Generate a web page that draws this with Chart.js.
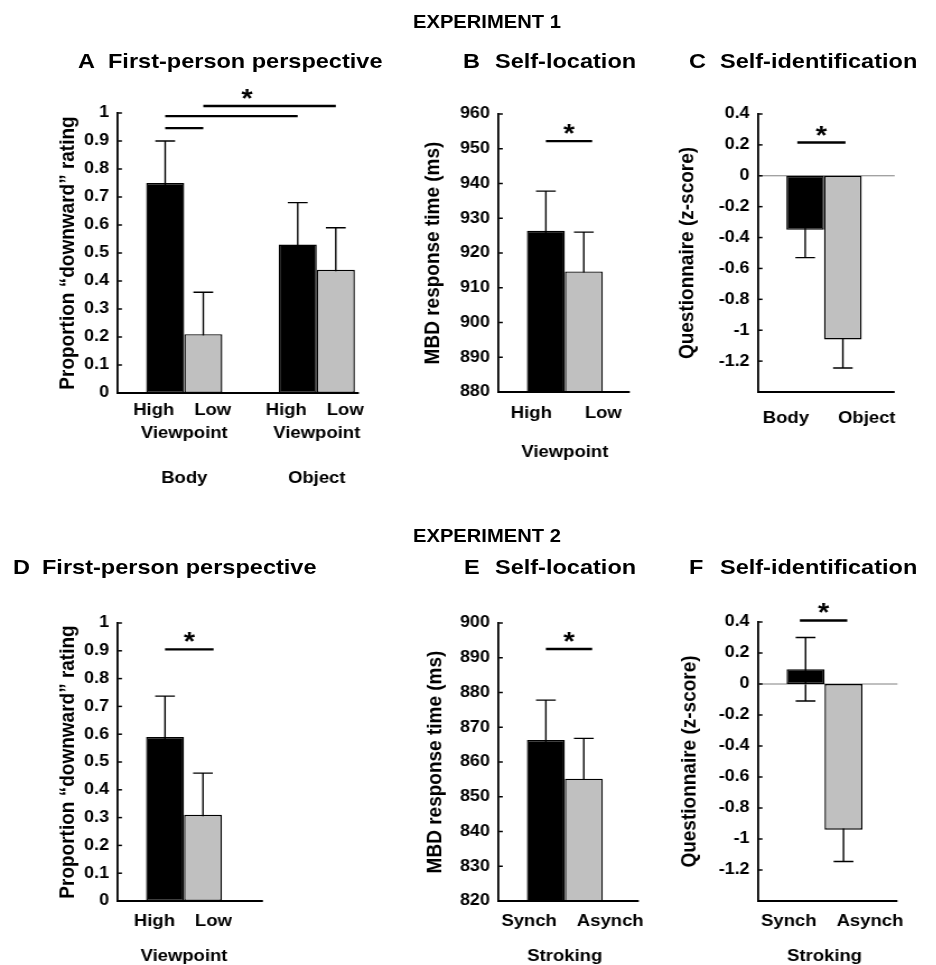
<!DOCTYPE html>
<html>
<head>
<meta charset="utf-8">
<script src="https://cdn.jsdelivr.net/npm/chart.js@4.4.0/dist/chart.umd.min.js"></script>
<style>
    html, body { margin: 0; padding: 0; background: #fff; }
    body { width: 936px; height: 965px; overflow: hidden; position: relative; }
    /* the source figure is a little wider than tall, so the whole stage is stretched sideways */
    #stage { position: absolute; left: 0; top: 0; width: 836px; height: 965px;
             transform: scaleX(1.12); transform-origin: 0 0;
             font-family: "Liberation Sans", Arial, sans-serif; font-weight: bold; color: #000; }
    #stage canvas { position: absolute; }
    .t { position: absolute; white-space: nowrap; line-height: 1; }
    .head { font-size: 18px; }
    .ttl { font-size: 21px; }
</style>
</head>
<body>
<div id="stage"></div>
<script>
const SX = 1.12;

// ---- Experiment 1 ----
// A  First-person perspective
const groupsA = ['Body', 'Object'];
const highA = [0.75, 0.53];
const lowA = [0.21, 0.44];
const highErrA = [0.15, 0.15];
const lowErrA = [0.15, 0.15];
const sigA = [0.946, 0.989, 1.025];
const yTicksA = [0, 0.1, 0.2, 0.3, 0.4, 0.5, 0.6, 0.7, 0.8, 0.9, 1];

// B  Self-location
const groupsB = ['Viewpoint'];
const highB = [926.4];
const lowB = [914.7];
const highErrB = [11.4];
const lowErrB = [11.3];
const sigB = [952.2];
const yTicksB = [880, 890, 900, 910, 920, 930, 940, 950, 960];

// C  Self-identification
const groupsC = [''];
const bodyC = [-0.35];
const objectC = [-1.06];
const bodyErrC = [0.18];
const objectErrC = [0.185];
const sigC = [0.215];
const yTicksC = [0.4, 0.2, 0, -0.2, -0.4, -0.6, -0.8, -1, -1.2];

// ---- Experiment 2 ----
// D  First-person perspective
const groupsD = ['Viewpoint'];
const highD = [0.59];
const lowD = [0.31];
const highErrD = [0.147];
const lowErrD = [0.15];
const sigD = [0.905];
const yTicksD = [0, 0.1, 0.2, 0.3, 0.4, 0.5, 0.6, 0.7, 0.8, 0.9, 1];

// E  Self-location
const groupsE = ['Stroking'];
const synchE = [866.3];
const asynchE = [855.2];
const synchErrE = [11.5];
const asynchErrE = [11.6];
const sigE = [892.5];
const yTicksE = [820, 830, 840, 850, 860, 870, 880, 890, 900];

// F  Self-identification
const groupsF = ['Stroking'];
const synchF = [0.095];
const asynchF = [-0.94];
const synchErrF = [0.205];
const asynchErrF = [0.205];
const sigF = [0.41];
const yTicksF = [0.4, 0.2, 0, -0.2, -0.4, -0.6, -0.8, -1, -1.2];

const BLACK = '#000000';
const GRAY = '#c0c0c0';
const FONT = '"Liberation Sans", Arial, sans-serif';
const LABEL_FONT = 'bold 16.5px ' + FONT;

Chart.defaults.font.family = FONT;
Chart.defaults.color = '#000';

const stage = document.getElementById('stage');

function addText(txt, x, y, cls) {
    const d = document.createElement('div');
    d.className = 't ' + cls;
    d.textContent = txt;
    d.style.left = (x / SX) + 'px';
    d.style.top = y + 'px';
    stage.appendChild(d);
}

function fmt(v) {
    return String(+Number(v).toFixed(2));
}

function axisEnd(chart, cfg) {
    let right = 0;
    chart.data.datasets.forEach((ds, di) => {
        chart.getDatasetMeta(di).data.forEach(bar => {
            right = Math.max(right, bar.x + bar.width / 2);
        });
    });
    return right + cfg.axisPad / SX;
}

// error bars, zero line, x axis, inward ticks, brackets and labels
function panelPlugin(cfg) {
    return {
        id: 'panel',
        beforeDatasetsDraw(chart) {
            const { ctx, chartArea: a, scales: { y } } = chart;
            ctx.save();
            ctx.strokeStyle = '#000';
            ctx.lineWidth = 1.4;
            chart.data.datasets.forEach((ds, di) => {
                chart.getDatasetMeta(di).data.forEach((bar, i) => {
                    const v = ds.data[i];
                    const e = cfg.series[di].err[i];
                    const y0 = y.getPixelForValue(v - e);
                    const y1 = y.getPixelForValue(v + e);
                    const cap = bar.width * 0.26;
                    ctx.beginPath();
                    ctx.moveTo(bar.x, y0); ctx.lineTo(bar.x, y1);
                    ctx.moveTo(bar.x - cap, y0); ctx.lineTo(bar.x + cap, y0);
                    ctx.moveTo(bar.x - cap, y1); ctx.lineTo(bar.x + cap, y1);
                    ctx.stroke();
                });
            });
            if (cfg.zeroLine) {
                const zy = y.getPixelForValue(0);
                ctx.strokeStyle = '#808080';
                ctx.lineWidth = 1;
                ctx.beginPath();
                ctx.moveTo(a.left, zy);
                ctx.lineTo(axisEnd(chart, cfg), zy);
                ctx.stroke();
            }
            ctx.restore();
        },
        afterDatasetsDraw(chart) {
            const { ctx, chartArea: a, scales: { x, y } } = chart;
            ctx.save();
            ctx.strokeStyle = '#000';

            // x axis
            ctx.lineWidth = 2;
            ctx.beginPath();
            ctx.moveTo(a.left - 1, a.bottom);
            ctx.lineTo(axisEnd(chart, cfg), a.bottom);
            ctx.stroke();

            // inward tick marks
            ctx.lineWidth = 1.5;
            y.ticks.forEach(t => {
                const py = y.getPixelForValue(t.value);
                ctx.beginPath();
                ctx.moveTo(a.left, py);
                ctx.lineTo(a.left + 3.5, py);
                ctx.stroke();
            });

            // significance brackets
            const barAt = (ref) => {
                const bar = chart.getDatasetMeta(ref[0]).data[ref[1]];
                return bar.x + ref[2] * bar.width;
            };
            ctx.lineWidth = 2.4;
            cfg.brackets.forEach((br, k) => {
                const x0 = barAt(br.from), x1 = barAt(br.to);
                const ly = y.getPixelForValue(cfg.sig[k]);
                ctx.beginPath();
                ctx.moveTo(x0, ly); ctx.lineTo(x1, ly);
                ctx.stroke();
                if (br.star !== undefined) {
                    ctx.fillStyle = '#000';
                    ctx.font = 'bold 26px ' + FONT;
                    ctx.textAlign = 'center';
                    ctx.textBaseline = 'alphabetic';
                    ctx.fillText('*', x0 + (x1 - x0) * br.star, ly + 1);
                }
            });

            // labels under each bar
            ctx.fillStyle = '#000';
            ctx.font = LABEL_FONT;
            ctx.textBaseline = 'middle';
            chart.data.datasets.forEach((ds, di) => {
                chart.getDatasetMeta(di).data.forEach(bar => {
                    if (di === 0) {
                        ctx.textAlign = 'right';
                        ctx.fillText(ds.label, bar.x + bar.width / 2 - cfg.gaps[0] / SX, a.bottom + cfg.barLabelDy);
                        if (cfg.subLabel) {
                            ctx.textAlign = 'center';
                            ctx.fillText(cfg.subLabel, bar.x + bar.width / 2, a.bottom + cfg.subLabelDy);
                        }
                    } else {
                        ctx.textAlign = 'left';
                        ctx.fillText(ds.label, bar.x - bar.width / 2 + cfg.gaps[1] / SX, a.bottom + cfg.barLabelDy);
                    }
                });
            });

            // category names, placed at the category scale's tick positions
            ctx.textAlign = 'center';
            chart.data.labels.forEach((lab, i) => {
                if (lab) ctx.fillText(lab, x.getPixelForTick(i), a.bottom + cfg.catDy);
            });
            ctx.restore();
        }
    };
}

function makePanel(cfg) {
    const cv = document.createElement('canvas');
    const left = cfg.box.l / SX;
    const w = Math.round((cfg.box.r - cfg.box.l) / SX);
    const h = cfg.box.b - cfg.box.t;
    cv.width = w;
    cv.height = h;
    cv.style.left = left + 'px';
    cv.style.top = cfg.box.t + 'px';
    cv.style.width = w + 'px';
    cv.style.height = h + 'px';
    stage.appendChild(cv);

    const aL = cfg.area.l / SX - left;
    const aR = cfg.area.r / SX - left;
    const titleSize = 19;
    const padL = cfg.titleX / SX - left - titleSize * 1.2 / 2;

    new Chart(cv, {
        type: 'bar',
        data: {
            labels: cfg.labels,
            datasets: cfg.series.map(s => ({
                label: s.name,
                data: s.data,
                backgroundColor: s.color,
                borderColor: '#000',
                borderWidth: 1.4,
                borderSkipped: false,
                categoryPercentage: 0.575,
                barPercentage: 1
            }))
        },
        options: {
            responsive: false,
            animation: false,
            events: [],
            layout: {
                padding: { left: padL, top: cfg.area.t - cfg.box.t, right: w - aR, bottom: 0 }
            },
            plugins: {
                legend: { display: false },
                tooltip: { enabled: false }
            },
            scales: {
                x: {
                    grid: { display: false, drawTicks: false },
                    border: { display: false },
                    ticks: { display: false },
                    afterFit: s => { s.height = cfg.box.b - cfg.area.b; }
                },
                y: {
                    min: cfg.yMin,
                    max: cfg.yMax,
                    grid: { display: false, drawTicks: false },
                    border: { display: true, color: '#000', width: 1.8 },
                    afterBuildTicks: s => { s.ticks = cfg.yTicks.map(v => ({ value: v })); },
                    ticks: {
                        padding: 8,
                        color: '#000',
                        font: { size: 16, weight: 'bold' },
                        callback: v => fmt(v)
                    },
                    title: {
                        display: true,
                        text: cfg.yTitle,
                        color: '#000',
                        padding: 0,
                        font: { size: titleSize, weight: 'bold' }
                    },
                    afterFit: s => { s.width = aL - padL; }
                }
            }
        },
        plugins: [panelPlugin(cfg)]
    });
}

// headers and panel titles
addText('EXPERIMENT 1', 413, 12.5, 'head');
addText('A', 78, 50, 'ttl');
addText('First-person perspective', 108, 50, 'ttl');
addText('B', 463, 50, 'ttl');
addText('Self-location', 495, 50, 'ttl');
addText('C', 689, 50, 'ttl');
addText('Self-identification', 720, 50, 'ttl');

addText('EXPERIMENT 2', 413, 527, 'head');
addText('D', 13, 556, 'ttl');
addText('First-person perspective', 42, 556, 'ttl');
addText('E', 464, 556, 'ttl');
addText('Self-location', 495, 556, 'ttl');
addText('F', 689, 556, 'ttl');
addText('Self-identification', 720, 556, 'ttl');

const PROP_TITLE = 'Proportion \u201Cdownward\u201D rating';

makePanel({
    box: { l: 0, t: 70, r: 400, b: 500 },
    area: { l: 118, t: 113, r: 383, b: 393 },
    titleX: 68,
    labels: groupsA,
    series: [
        { name: 'High', data: highA, err: highErrA, color: BLACK },
        { name: 'Low', data: lowA, err: lowErrA, color: GRAY }
    ],
    yMin: 0, yMax: 1, yTicks: yTicksA,
    yTitle: PROP_TITLE,
    sig: sigA,
    brackets: [
        { from: [0, 0, 0], to: [1, 0, 0] },
        { from: [0, 0, 0], to: [0, 1, 0] },
        { from: [1, 0, 0], to: [1, 1, 0], star: 0.33 }
    ],
    axisPad: 4, barLabelDy: 17, gaps: [10, 10],
    subLabel: 'Viewpoint', subLabelDy: 40,
    catDy: 85
});

makePanel({
    box: { l: 400, t: 70, r: 645, b: 500 },
    area: { l: 499, t: 114, r: 631, b: 392 },
    titleX: 433,
    labels: groupsB,
    series: [
        { name: 'High', data: highB, err: highErrB, color: BLACK },
        { name: 'Low', data: lowB, err: lowErrB, color: GRAY }
    ],
    yMin: 880, yMax: 960, yTicks: yTicksB,
    yTitle: 'MBD response time (ms)',
    sig: sigB,
    brackets: [{ from: [0, 0, 0], to: [1, 0, 0.22], star: 0.5 }],
    axisPad: 27, barLabelDy: 21, gaps: [13, 20],
    catDy: 60
});

makePanel({
    box: { l: 640, t: 70, r: 936, b: 500 },
    area: { l: 759, t: 114, r: 890, b: 392 },
    titleX: 688,
    labels: groupsC,
    series: [
        { name: 'Body', data: bodyC, err: bodyErrC, color: BLACK },
        { name: 'Object', data: objectC, err: objectErrC, color: GRAY }
    ],
    yMin: -1.4, yMax: 0.4, yTicks: yTicksC,
    yTitle: 'Questionnaire (z-score)',
    sig: sigC,
    brackets: [{ from: [0, 0, -0.21], to: [1, 0, 0.07], star: 0.5 }],
    zeroLine: true,
    axisPad: 33, barLabelDy: 26, gaps: [15, 14],
    catDy: 60
});

makePanel({
    box: { l: 0, t: 580, r: 400, b: 965 },
    area: { l: 118, t: 623, r: 250, b: 901 },
    titleX: 68,
    labels: groupsD,
    series: [
        { name: 'High', data: highD, err: highErrD, color: BLACK },
        { name: 'Low', data: lowD, err: lowErrD, color: GRAY }
    ],
    yMin: 0, yMax: 1, yTicks: yTicksD,
    yTitle: PROP_TITLE,
    sig: sigD,
    brackets: [{ from: [0, 0, 0], to: [1, 0, 0.28], star: 0.5 }],
    axisPad: 41, barLabelDy: 20.5, gaps: [9, 11],
    catDy: 55
});

makePanel({
    box: { l: 400, t: 580, r: 645, b: 965 },
    area: { l: 499, t: 623, r: 631, b: 901 },
    titleX: 436,
    labels: groupsE,
    series: [
        { name: 'Synch', data: synchE, err: synchErrE, color: BLACK },
        { name: 'Asynch', data: asynchE, err: asynchErrE, color: GRAY }
    ],
    yMin: 820, yMax: 900, yTicks: yTicksE,
    yTitle: 'MBD response time (ms)',
    sig: sigE,
    brackets: [{ from: [0, 0, 0], to: [1, 0, 0.22], star: 0.5 }],
    axisPad: 36, barLabelDy: 20.5, gaps: [8, 12],
    catDy: 55
});

makePanel({
    box: { l: 640, t: 580, r: 936, b: 965 },
    area: { l: 759, t: 622, r: 891, b: 901 },
    titleX: 690,
    labels: groupsF,
    series: [
        { name: 'Synch', data: synchF, err: synchErrF, color: BLACK },
        { name: 'Asynch', data: asynchF, err: asynchErrF, color: GRAY }
    ],
    yMin: -1.4, yMax: 0.4, yTicks: yTicksF,
    yTitle: 'Questionnaire (z-score)',
    sig: sigF,
    brackets: [{ from: [0, 0, -0.15], to: [1, 0, 0.1], star: 0.5 }],
    zeroLine: true,
    axisPad: 35, barLabelDy: 20.5, gaps: [8, 12],
    catDy: 55
});
</script>
</body>
</html>
